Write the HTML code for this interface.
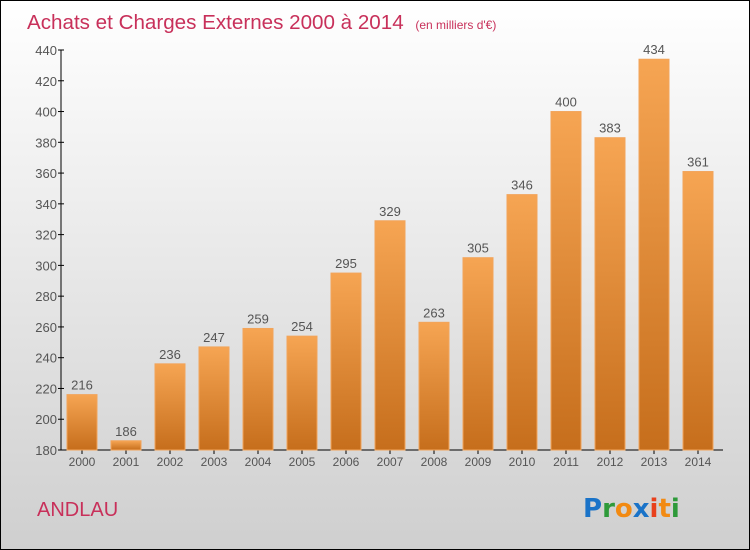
<!DOCTYPE html>
<html><head><meta charset="utf-8"><style>
body{margin:0;}
#wrap{position:relative;width:748px;height:548px;border:1px solid #000;background:linear-gradient(#ffffff,#cfcfcf);font-family:"Liberation Sans",sans-serif;overflow:hidden;}
svg{position:absolute;left:0;top:0;}
</style></head><body>
<div id="wrap">
<svg id="chart" width="748" height="548">
<defs><linearGradient id="bg" x1="0" y1="0" x2="0" y2="1"><stop offset="0" stop-color="#f6a553"/><stop offset="1" stop-color="#c66e1c"/></linearGradient></defs>
<text x="26" y="28" font-size="20.6" fill="#c8305a">Achats et Charges Externes 2000 à 2014 <tspan font-size="12" dx="6">(en milliers d'€)</tspan></text>
<text x="36" y="515" font-size="20" fill="#c8305a">ANDLAU</text>
<g font-size="26" font-weight="bold" font-family="'DejaVu Sans',sans-serif">
<text x="582" y="516"><tspan fill="#1a73c8">P</tspan><tspan fill="#2e9a3a">r</tspan><tspan fill="#f28a12">o</tspan><tspan fill="#1a73c8">x</tspan><tspan fill="#e8401c">i</tspan><tspan fill="#f28a12">t</tspan><tspan fill="#2e9a3a">i</tspan></text>
</g>
<g id="axes"></g><g id="bars"></g>
</svg>
</div>
<script>
const categories=["2000","2001","2002","2003","2004","2005","2006","2007","2008","2009","2010","2011","2012","2013","2014"];
const values=[216,186,236,247,259,254,295,329,263,305,346,400,383,434,361];
const yTicks=[180,200,220,240,260,280,300,320,340,360,380,400,420,440];
const NS="http://www.w3.org/2000/svg";
const yMin=180,yMax=440,y0=449,y1=49,x0=60;
function y(v){return y0-(v-yMin)/(yMax-yMin)*(y0-y1);}
function x(i){return 81+i*44;}
function mk(t,a,p){const e=document.createElementNS(NS,t);for(const k in a)e.setAttribute(k,a[k]);p.appendChild(e);return e;}
const ax=document.getElementById('axes'),bars=document.getElementById('bars');
const yl=mk('line',{x1:x0,y1:y1,x2:x0,y2:y0,stroke:'#000'},ax);


const xl=mk('line',{x1:x0,y1:y0,x2:722,y2:y0,stroke:'#000'},ax);


yTicks.forEach(v=>{
 mk('line',{x1:x0-3,x2:x0+3,y1:y(v),y2:y(v),stroke:'#000'},ax);
 const t=mk('text',{x:x0-4,y:y(v)+5,'text-anchor':'end','font-size':13,fill:'#555'},ax);
 t.textContent=v;
 
 
});
categories.forEach((c,i)=>{
 mk('line',{x1:x(i),x2:x(i),y1:y0,y2:y0+4,stroke:'#000'},ax);
 const t=mk('text',{x:x(i),y:y0+16,'text-anchor':'middle','font-size':12,fill:'#555'},ax);
 t.textContent=c;
 
 
 const b=mk('rect',{x:x(i)-15,y:y(values[i]),width:30,height:y0-y(values[i]),fill:'url(#bg)',stroke:'#f2a45a','stroke-width':1},bars);
 
 
 const l=mk('text',{x:x(i),y:y(values[i])-5,'text-anchor':'middle','font-size':13,fill:'#555'},bars);
 l.textContent=values[i];
 
 
});
</script>
</body></html>
